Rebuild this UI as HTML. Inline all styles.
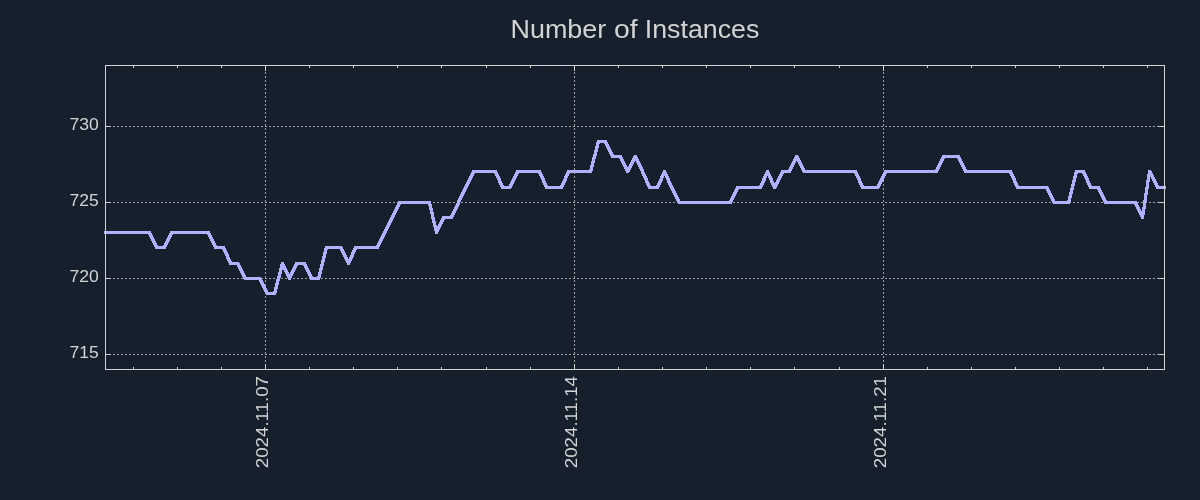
<!DOCTYPE html>
<html><head><meta charset="utf-8"><title>Number of Instances</title>
<style>html,body{margin:0;padding:0;background:#16202c;overflow:hidden}svg{display:block;will-change:transform}text{font-family:"Liberation Sans",sans-serif;fill:#d3d3d3}</style></head>
<body><svg width="1200" height="500" viewBox="0 0 1200 500">
<rect x="0" y="0" width="1200" height="500" fill="#16202c"/>
<g stroke="#a0a0a0" stroke-width="1" fill="none" shape-rendering="crispEdges">
<line x1="105" y1="126.5" x2="1164" y2="126.5" stroke-dasharray="2 2"/>
<line x1="105" y1="202.5" x2="1164" y2="202.5" stroke-dasharray="2 2"/>
<line x1="105" y1="278.5" x2="1164" y2="278.5" stroke-dasharray="2 2"/>
<line x1="105" y1="354.5" x2="1164" y2="354.5" stroke-dasharray="2 2"/>
<line x1="265.5" y1="370" x2="265.5" y2="65" stroke-dasharray="2 2"/>
<line x1="574.5" y1="370" x2="574.5" y2="65" stroke-dasharray="2 2"/>
<line x1="883.5" y1="370" x2="883.5" y2="65" stroke-dasharray="2 2"/>
</g>
<path d="M104,231 151,231 151,234 104,234ZM148,231.5 151,231.5 158,246.5 158,248.5 155,248.5 148,233.5ZM148,231 151,231 151,234 148,234ZM155,246 158,246 158,249 155,249ZM155,246 166,246 166,249 155,249ZM163,246.5 170,231.5 173,231.5 173,233.5 166,248.5 163,248.5ZM163,246 166,246 166,249 163,249ZM170,231 173,231 173,234 170,234ZM170,231 210,231 210,234 170,234ZM207,231.5 210,231.5 217,246.5 217,248.5 214,248.5 207,233.5ZM207,231 210,231 210,234 207,234ZM214,246 217,246 217,249 214,249ZM214,246 225,246 225,249 214,249ZM222,246.5 225,246.5 232,262.5 232,264.5 229,264.5 222,248.5ZM222,246 225,246 225,249 222,249ZM229,262 232,262 232,265 229,265ZM229,262 239,262 239,265 229,265ZM236,262.5 239,262.5 247,277.5 247,279.5 244,279.5 236,264.5ZM236,262 239,262 239,265 236,265ZM244,277 247,277 247,280 244,280ZM244,277 261,277 261,280 244,280ZM258,277.5 261,277.5 269,292.5 269,294.5 266,294.5 258,279.5ZM258,277 261,277 261,280 258,280ZM266,292 269,292 269,295 266,295ZM266,292 276,292 276,295 266,295ZM273,292.5 281,262.5 284,262.5 284,264.5 276,294.5 273,294.5ZM273,292 276,292 276,295 273,295ZM281,262 284,262 284,265 281,265ZM281,262.5 284,262.5 291,277.5 291,279.5 288,279.5 281,264.5ZM281,262 284,262 284,265 281,265ZM288,277 291,277 291,280 288,280ZM288,277.5 295,262.5 298,262.5 298,264.5 291,279.5 288,279.5ZM288,277 291,277 291,280 288,280ZM295,262 298,262 298,265 295,265ZM295,262 306,262 306,265 295,265ZM303,262.5 306,262.5 313,277.5 313,279.5 310,279.5 303,264.5ZM303,262 306,262 306,265 303,265ZM310,277 313,277 313,280 310,280ZM310,277 320,277 320,280 310,280ZM317,277.5 325,246.5 328,246.5 328,248.5 320,279.5 317,279.5ZM317,277 320,277 320,280 317,280ZM325,246 328,246 328,249 325,249ZM325,246 342,246 342,249 325,249ZM339,246.5 342,246.5 350,262.5 350,264.5 347,264.5 339,248.5ZM339,246 342,246 342,249 339,249ZM347,262 350,262 350,265 347,265ZM347,262.5 354,246.5 357,246.5 357,248.5 350,264.5 347,264.5ZM347,262 350,262 350,265 347,265ZM354,246 357,246 357,249 354,249ZM354,246 379,246 379,249 354,249ZM376,246.5 383,231.5 386,231.5 386,233.5 379,248.5 376,248.5ZM376,246 379,246 379,249 376,249ZM383,231 386,231 386,234 383,234ZM383,231.5 391,216.5 394,216.5 394,218.5 386,233.5 383,233.5ZM383,231 386,231 386,234 383,234ZM391,216 394,216 394,219 391,219ZM391,216.5 398,201.5 401,201.5 401,203.5 394,218.5 391,218.5ZM391,216 394,216 394,219 391,219ZM398,201 401,201 401,204 398,204ZM398,201 431,201 431,204 398,204ZM428,201.5 431,201.5 438,231.5 438,233.5 435,233.5 428,203.5ZM428,201 431,201 431,204 428,204ZM435,231 438,231 438,234 435,234ZM435,231.5 442,216.5 445,216.5 445,218.5 438,233.5 435,233.5ZM435,231 438,231 438,234 435,234ZM442,216 445,216 445,219 442,219ZM442,216 453,216 453,219 442,219ZM450,216.5 457,201.5 460,201.5 460,203.5 453,218.5 450,218.5ZM450,216 453,216 453,219 450,219ZM457,201 460,201 460,204 457,204ZM457,201.5 464,186.5 467,186.5 467,188.5 460,203.5 457,203.5ZM457,201 460,201 460,204 457,204ZM464,186 467,186 467,189 464,189ZM464,186.5 472,170.5 475,170.5 475,172.5 467,188.5 464,188.5ZM464,186 467,186 467,189 464,189ZM472,170 475,170 475,173 472,173ZM472,170 497,170 497,173 472,173ZM494,170.5 497,170.5 504,186.5 504,188.5 501,188.5 494,172.5ZM494,170 497,170 497,173 494,173ZM501,186 504,186 504,189 501,189ZM501,186 511,186 511,189 501,189ZM508,186.5 516,170.5 519,170.5 519,172.5 511,188.5 508,188.5ZM508,186 511,186 511,189 508,189ZM516,170 519,170 519,173 516,173ZM516,170 541,170 541,173 516,173ZM538,170.5 541,170.5 548,186.5 548,188.5 545,188.5 538,172.5ZM538,170 541,170 541,173 538,173ZM545,186 548,186 548,189 545,189ZM545,186 563,186 563,189 545,189ZM560,186.5 567,170.5 570,170.5 570,172.5 563,188.5 560,188.5ZM560,186 563,186 563,189 560,189ZM567,170 570,170 570,173 567,173ZM567,170 592,170 592,173 567,173ZM589,170.5 597,140.5 600,140.5 600,142.5 592,172.5 589,172.5ZM589,170 592,170 592,173 589,173ZM597,140 600,140 600,143 597,143ZM597,140 607,140 607,143 597,143ZM604,140.5 607,140.5 614,155.5 614,157.5 611,157.5 604,142.5ZM604,140 607,140 607,143 604,143ZM611,155 614,155 614,158 611,158ZM611,155 622,155 622,158 611,158ZM619,155.5 622,155.5 629,170.5 629,172.5 626,172.5 619,157.5ZM619,155 622,155 622,158 619,158ZM626,170 629,170 629,173 626,173ZM626,170.5 634,155.5 637,155.5 637,157.5 629,172.5 626,172.5ZM626,170 629,170 629,173 626,173ZM634,155 637,155 637,158 634,158ZM634,155.5 637,155.5 644,170.5 644,172.5 641,172.5 634,157.5ZM634,155 637,155 637,158 634,158ZM641,170 644,170 644,173 641,173ZM641,170.5 644,170.5 651,186.5 651,188.5 648,188.5 641,172.5ZM641,170 644,170 644,173 641,173ZM648,186 651,186 651,189 648,189ZM648,186 659,186 659,189 648,189ZM656,186.5 663,170.5 666,170.5 666,172.5 659,188.5 656,188.5ZM656,186 659,186 659,189 656,189ZM663,170 666,170 666,173 663,173ZM663,170.5 666,170.5 673,186.5 673,188.5 670,188.5 663,172.5ZM663,170 666,170 666,173 663,173ZM670,186 673,186 673,189 670,189ZM670,186.5 673,186.5 681,201.5 681,203.5 678,203.5 670,188.5ZM670,186 673,186 673,189 670,189ZM678,201 681,201 681,204 678,204ZM678,201 732,201 732,204 678,204ZM729,201.5 736,186.5 739,186.5 739,188.5 732,203.5 729,203.5ZM729,201 732,201 732,204 729,204ZM736,186 739,186 739,189 736,189ZM736,186 762,186 762,189 736,189ZM759,186.5 766,170.5 769,170.5 769,172.5 762,188.5 759,188.5ZM759,186 762,186 762,189 759,189ZM766,170 769,170 769,173 766,173ZM766,170.5 769,170.5 776,186.5 776,188.5 773,188.5 766,172.5ZM766,170 769,170 769,173 766,173ZM773,186 776,186 776,189 773,189ZM773,186.5 781,170.5 784,170.5 784,172.5 776,188.5 773,188.5ZM773,186 776,186 776,189 773,189ZM781,170 784,170 784,173 781,173ZM781,170 791,170 791,173 781,173ZM788,170.5 795,155.5 798,155.5 798,157.5 791,172.5 788,172.5ZM788,170 791,170 791,173 788,173ZM795,155 798,155 798,158 795,158ZM795,155.5 798,155.5 806,170.5 806,172.5 803,172.5 795,157.5ZM795,155 798,155 798,158 795,158ZM803,170 806,170 806,173 803,173ZM803,170 857,170 857,173 803,173ZM854,170.5 857,170.5 864,186.5 864,188.5 861,188.5 854,172.5ZM854,170 857,170 857,173 854,173ZM861,186 864,186 864,189 861,189ZM861,186 879,186 879,189 861,189ZM876,186.5 884,170.5 887,170.5 887,172.5 879,188.5 876,188.5ZM876,186 879,186 879,189 876,189ZM884,170 887,170 887,173 884,173ZM884,170 938,170 938,173 884,173ZM935,170.5 942,155.5 945,155.5 945,157.5 938,172.5 935,172.5ZM935,170 938,170 938,173 935,173ZM942,155 945,155 945,158 942,158ZM942,155 960,155 960,158 942,158ZM957,155.5 960,155.5 967,170.5 967,172.5 964,172.5 957,157.5ZM957,155 960,155 960,158 957,158ZM964,170 967,170 967,173 964,173ZM964,170 1012,170 1012,173 964,173ZM1009,170.5 1012,170.5 1019,186.5 1019,188.5 1016,188.5 1009,172.5ZM1009,170 1012,170 1012,173 1009,173ZM1016,186 1019,186 1019,189 1016,189ZM1016,186 1048,186 1048,189 1016,189ZM1045,186.5 1048,186.5 1056,201.5 1056,203.5 1053,203.5 1045,188.5ZM1045,186 1048,186 1048,189 1045,189ZM1053,201 1056,201 1056,204 1053,204ZM1053,201 1070,201 1070,204 1053,204ZM1067,201.5 1075,170.5 1078,170.5 1078,172.5 1070,203.5 1067,203.5ZM1067,201 1070,201 1070,204 1067,204ZM1075,170 1078,170 1078,173 1075,173ZM1075,170 1085,170 1085,173 1075,173ZM1082,170.5 1085,170.5 1092,186.5 1092,188.5 1089,188.5 1082,172.5ZM1082,170 1085,170 1085,173 1082,173ZM1089,186 1092,186 1092,189 1089,189ZM1089,186 1100,186 1100,189 1089,189ZM1097,186.5 1100,186.5 1107,201.5 1107,203.5 1104,203.5 1097,188.5ZM1097,186 1100,186 1100,189 1097,189ZM1104,201 1107,201 1107,204 1104,204ZM1104,201 1137,201 1137,204 1104,204ZM1134,201.5 1137,201.5 1144,216.5 1144,218.5 1141,218.5 1134,203.5ZM1134,201 1137,201 1137,204 1134,204ZM1141,216 1144,216 1144,219 1141,219ZM1141,216.5 1148,170.5 1151,170.5 1151,172.5 1144,218.5 1141,218.5ZM1141,216 1144,216 1144,219 1141,219ZM1148,170 1151,170 1151,173 1148,173ZM1148,170.5 1151,170.5 1159,186.5 1159,188.5 1156,188.5 1148,172.5ZM1148,170 1151,170 1151,173 1148,173ZM1156,186 1159,186 1159,189 1156,189ZM1156,186 1166,186 1166,189 1156,189Z" fill="#b0b0ff" fill-rule="nonzero" shape-rendering="crispEdges"/>
<g fill="#d3d3d3" shape-rendering="crispEdges">
<rect x="105" y="65" width="1060" height="1"/>
<rect x="105" y="369" width="1060" height="1"/>
<rect x="105" y="65" width="1" height="305"/>
<rect x="1164" y="65" width="1" height="305"/>
<rect x="106" y="126" width="5" height="1"/>
<rect x="1159" y="126" width="5" height="1"/>
<rect x="106" y="202" width="5" height="1"/>
<rect x="1159" y="202" width="5" height="1"/>
<rect x="106" y="278" width="5" height="1"/>
<rect x="1159" y="278" width="5" height="1"/>
<rect x="106" y="354" width="5" height="1"/>
<rect x="1159" y="354" width="5" height="1"/>
<rect x="133" y="66" width="1" height="2"/>
<rect x="133" y="367" width="1" height="2"/>
<rect x="177" y="66" width="1" height="2"/>
<rect x="177" y="367" width="1" height="2"/>
<rect x="221" y="66" width="1" height="2"/>
<rect x="221" y="367" width="1" height="2"/>
<rect x="265" y="66" width="1" height="5"/>
<rect x="265" y="364" width="1" height="5"/>
<rect x="309" y="66" width="1" height="2"/>
<rect x="309" y="367" width="1" height="2"/>
<rect x="353" y="66" width="1" height="2"/>
<rect x="353" y="367" width="1" height="2"/>
<rect x="397" y="66" width="1" height="2"/>
<rect x="397" y="367" width="1" height="2"/>
<rect x="441" y="66" width="1" height="2"/>
<rect x="441" y="367" width="1" height="2"/>
<rect x="486" y="66" width="1" height="2"/>
<rect x="486" y="367" width="1" height="2"/>
<rect x="530" y="66" width="1" height="2"/>
<rect x="530" y="367" width="1" height="2"/>
<rect x="574" y="66" width="1" height="5"/>
<rect x="574" y="364" width="1" height="5"/>
<rect x="618" y="66" width="1" height="2"/>
<rect x="618" y="367" width="1" height="2"/>
<rect x="662" y="66" width="1" height="2"/>
<rect x="662" y="367" width="1" height="2"/>
<rect x="706" y="66" width="1" height="2"/>
<rect x="706" y="367" width="1" height="2"/>
<rect x="750" y="66" width="1" height="2"/>
<rect x="750" y="367" width="1" height="2"/>
<rect x="794" y="66" width="1" height="2"/>
<rect x="794" y="367" width="1" height="2"/>
<rect x="839" y="66" width="1" height="2"/>
<rect x="839" y="367" width="1" height="2"/>
<rect x="883" y="66" width="1" height="5"/>
<rect x="883" y="364" width="1" height="5"/>
<rect x="927" y="66" width="1" height="2"/>
<rect x="927" y="367" width="1" height="2"/>
<rect x="971" y="66" width="1" height="2"/>
<rect x="971" y="367" width="1" height="2"/>
<rect x="1015" y="66" width="1" height="2"/>
<rect x="1015" y="367" width="1" height="2"/>
<rect x="1059" y="66" width="1" height="2"/>
<rect x="1059" y="367" width="1" height="2"/>
<rect x="1103" y="66" width="1" height="2"/>
<rect x="1103" y="367" width="1" height="2"/>
<rect x="1147" y="66" width="1" height="2"/>
<rect x="1147" y="367" width="1" height="2"/>
</g>
<text x="510.50" y="38" font-size="26.2" textLength="95.70" lengthAdjust="spacingAndGlyphs">Number</text>
<text x="614.00" y="38" font-size="26.2" textLength="23.70" lengthAdjust="spacingAndGlyphs">of</text>
<text x="644.80" y="38" font-size="26.2" textLength="114.50" lengthAdjust="spacingAndGlyphs">Instances</text>
<text class="yl" x="98.85" y="130.2" font-size="16.8" text-anchor="end" textLength="29.3" lengthAdjust="spacingAndGlyphs">730</text>
<text class="yl" x="98.85" y="206.2" font-size="16.8" text-anchor="end" textLength="29.3" lengthAdjust="spacingAndGlyphs">725</text>
<text class="yl" x="98.85" y="282.2" font-size="16.8" text-anchor="end" textLength="29.3" lengthAdjust="spacingAndGlyphs">720</text>
<text class="yl" x="98.85" y="358.2" font-size="16.8" text-anchor="end" textLength="29.3" lengthAdjust="spacingAndGlyphs">715</text>
<text class="xl" transform="translate(268.0,468.2) rotate(-90)" x="0" y="0" font-size="16.8" textLength="92.2" lengthAdjust="spacingAndGlyphs">2024.11.07</text>
<text class="xl" transform="translate(577.0,468.2) rotate(-90)" x="0" y="0" font-size="16.8" textLength="92.2" lengthAdjust="spacingAndGlyphs">2024.11.14</text>
<text class="xl" transform="translate(886.0,468.2) rotate(-90)" x="0" y="0" font-size="16.8" textLength="92.2" lengthAdjust="spacingAndGlyphs">2024.11.21</text>
</svg></body></html>
